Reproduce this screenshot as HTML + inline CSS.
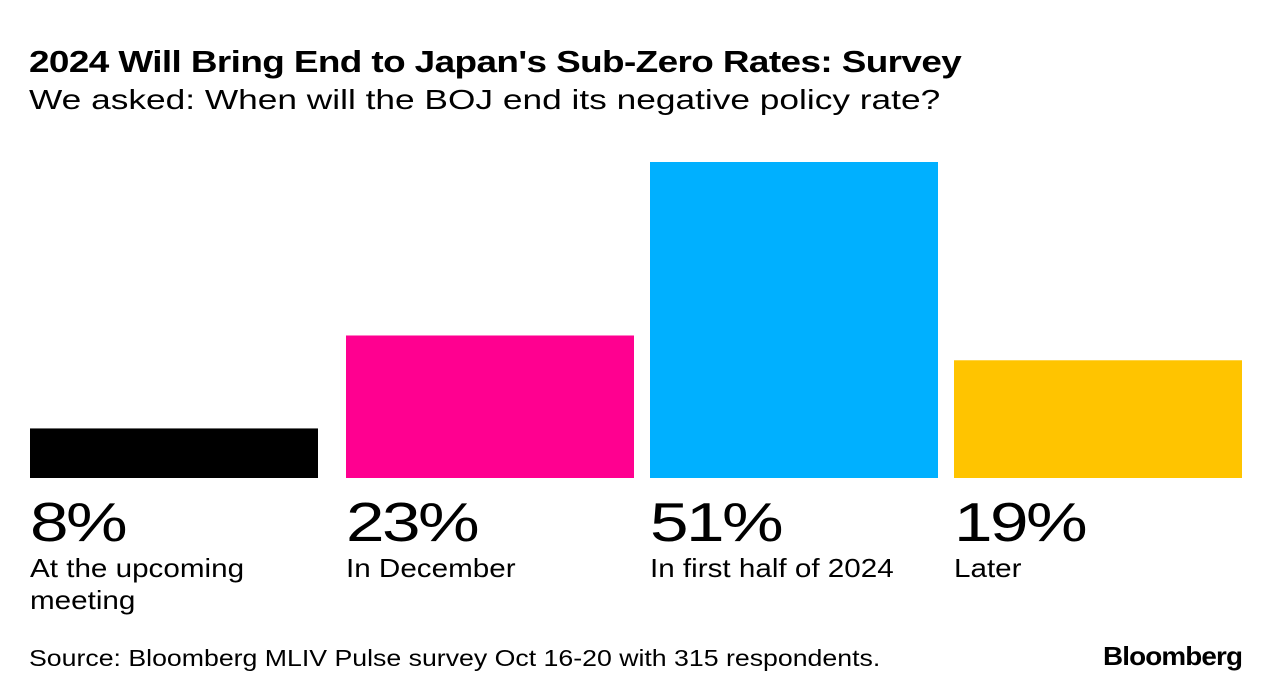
<!DOCTYPE html>
<html><head><meta charset="utf-8"><style>
body{margin:0;width:1281px;height:698px;background:#fff;font-family:"Liberation Sans",Arial,sans-serif;color:#000;position:relative;overflow:hidden}
.t{position:absolute;white-space:nowrap;transform-origin:0 0}
</style></head><body>
<div class="t" style="left:29px;top:44px;font-size:31px;font-weight:bold;letter-spacing:-0.5px;transform:scaleX(1.19)">2024 Will Bring End to Japan's Sub-Zero Rates: Survey</div>
<div class="t" style="left:29px;top:84px;font-size:28px;transform:scaleX(1.26)">We asked: When will the BOJ end its negative policy rate?</div>
<svg id="chart" width="1281" height="698" style="position:absolute;left:0;top:0"></svg>
<div class="t" style="left:29px;top:645px;font-size:23px;transform:scaleX(1.16)">Source: Bloomberg MLIV Pulse survey Oct 16-20 with 315 respondents.</div>
<div class="t" style="left:1103px;top:641px;font-size:26px;font-weight:bold;letter-spacing:-0.8px;transform:scaleX(1.07)">Bloomberg</div>
<script>
const categories=["At the upcoming|meeting","In December","In first half of 2024","Later"];
const values=[8,23,51,19];
const colors=["#000000","#ff0090","#00b0ff","#ffc400"];
const svg=document.getElementById('chart');
const NS="http://www.w3.org/2000/svg";
const baseY=478, scale=316/51, x0=30, bw=288, gap=16;
function xPos(i){return x0+i*(bw+gap)+(i>0?12:0);}
function yPos(v){return baseY-v*scale;}
values.forEach((v,i)=>{
  const r=document.createElementNS(NS,'rect');
  r.setAttribute('x',xPos(i));r.setAttribute('y',yPos(v));
  r.setAttribute('width',bw);r.setAttribute('height',baseY-yPos(v));
  r.setAttribute('fill',colors[i]);
  
  
  svg.appendChild(r);
  const t=document.createElementNS(NS,'text');
  t.setAttribute('x',0);t.setAttribute('y',0);
  t.setAttribute('transform','translate('+xPos(i)+',541) scale(1.26,1)');
  t.setAttribute('font-size','55');t.setAttribute('font-family','Liberation Sans, Arial, sans-serif');
  t.setAttribute('letter-spacing','-2');
  t.textContent=v+'%';
  
  
  svg.appendChild(t);
  categories[i].split('|').forEach((line,j)=>{
    const c=document.createElementNS(NS,'text');
    c.setAttribute('x',0);c.setAttribute('y',0);
    c.setAttribute('transform','translate('+xPos(i)+','+(577+j*32)+') scale(1.14,1)');
    c.setAttribute('font-size','26');c.setAttribute('font-family','Liberation Sans, Arial, sans-serif');
    c.textContent=line;
    
    
    svg.appendChild(c);
  });
});
</script>
</body></html>
